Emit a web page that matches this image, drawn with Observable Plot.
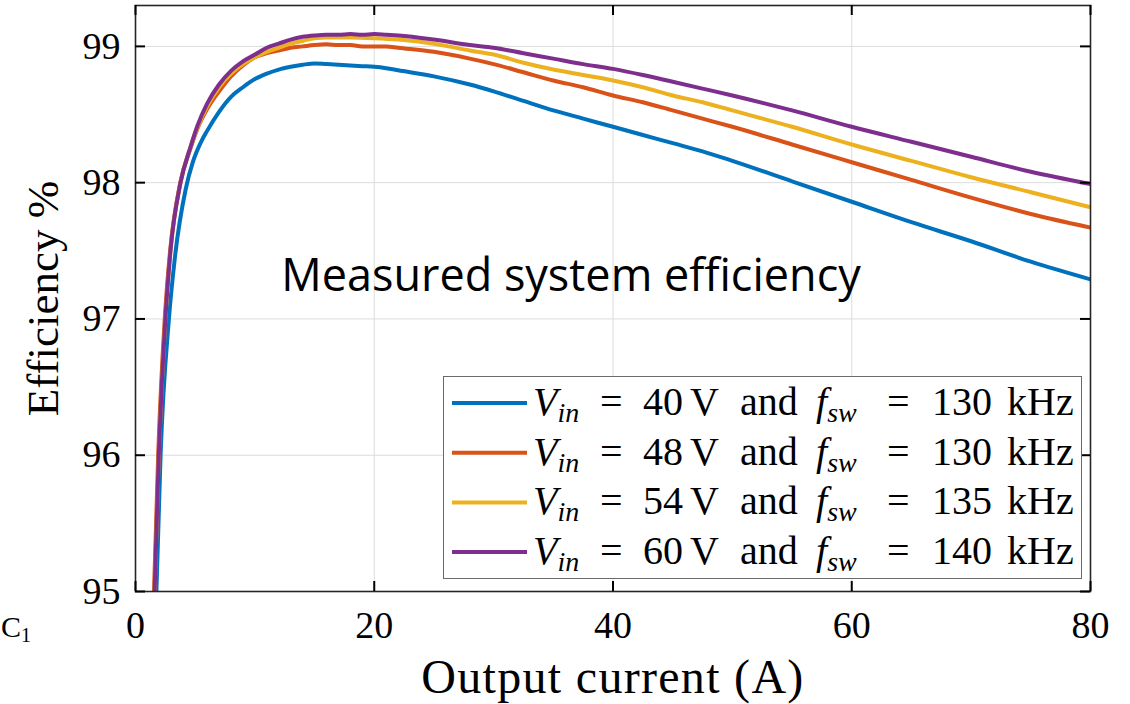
<!DOCTYPE html>
<html>
<head>
<meta charset="utf-8">
<script src="https://cdn.jsdelivr.net/npm/d3@7"></script>
<script src="https://cdn.jsdelivr.net/npm/@observablehq/plot@0.6"></script>
<style>
  body { margin: 0; background: #fff; }
  #chart { width: 1130px; height: 704px; overflow: hidden; }
</style>
</head>
<body>
<div id="chart"></div>
<script>
// ---- data ----
const seriesKeys = ["40V", "48V", "54V", "60V"];
const seriesColors = ["#0072BD", "#D95319", "#EDB120", "#7E2F8E"];
const vinValues = [40, 48, 54, 60];
const fswValues = [130, 130, 135, 140];

const current40 = [1.75, 2.1, 2.8, 3.3, 4.2, 4.8, 5.5, 6, 7, 8, 9, 10, 11, 12, 13, 14, 15, 16, 17, 18, 19, 20, 21, 22, 25, 28, 30, 32.5, 35, 37.5, 40, 42.5, 45, 47.5, 50, 55, 60, 65, 70, 75, 80];
const eff40 =     [95.0, 96.0, 97.0, 97.45, 97.95, 98.15, 98.3, 98.38, 98.52, 98.63, 98.7, 98.76, 98.8, 98.83, 98.85, 98.865, 98.875, 98.87, 98.865, 98.86, 98.855, 98.85, 98.84, 98.825, 98.78, 98.72, 98.67, 98.6, 98.53, 98.47, 98.41, 98.35, 98.29, 98.23, 98.16, 98.01, 97.86, 97.71, 97.57, 97.42, 97.29];

const current48 = [1.55, 1.9, 2.45, 2.9, 3.75, 4.6, 5.2, 6, 7, 8, 9, 10, 11, 12, 13, 14, 15, 16, 17, 18, 19, 20, 21, 22, 25, 28, 30, 32.5, 35, 37.5, 40, 42.5, 45, 47.5, 50, 55, 60, 65, 70, 75, 80];
const eff48 =     [95.0, 96.0, 97.0, 97.5, 98.0, 98.25, 98.4, 98.54, 98.67, 98.78, 98.86, 98.92, 98.95, 98.97, 98.99, 99.0, 99.01, 99.015, 99.01, 99.01, 99.0, 99.0, 99.0, 98.99, 98.96, 98.91, 98.87, 98.81, 98.75, 98.7, 98.64, 98.59, 98.53, 98.47, 98.41, 98.28, 98.15, 98.02, 97.89, 97.77, 97.67];

const current54 = [1.6, 1.95, 2.5, 2.93, 3.77, 4.6, 5.2, 6, 7, 8, 9, 10, 11, 12, 13, 14, 15, 16, 18, 20, 22, 25, 28, 30, 32.5, 35, 37.5, 40, 42.5, 45, 47.5, 50, 55, 60, 65, 70, 75, 80];
const eff54 =     [95.0, 96.0, 97.0, 97.5, 98.0, 98.26, 98.41, 98.56, 98.7, 98.8, 98.87, 98.92, 98.96, 98.99, 99.02, 99.04, 99.06, 99.065, 99.065, 99.06, 99.05, 99.02, 98.97, 98.94, 98.88, 98.83, 98.79, 98.75, 98.7, 98.64, 98.59, 98.53, 98.41, 98.28, 98.16, 98.04, 97.93, 97.82];

const current60 = [1.6, 1.95, 2.5, 2.93, 3.77, 4.6, 5.2, 6, 7, 8, 9, 10, 11, 12, 13, 14, 15, 16, 17, 18, 19, 20, 21, 22, 25, 28, 30, 32.5, 35, 37.5, 40, 42.5, 45, 47.5, 50, 55, 60, 65, 70, 75, 80];
const eff60 =     [95.0, 96.0, 97.0, 97.5, 98.0, 98.26, 98.42, 98.58, 98.72, 98.82, 98.89, 98.94, 98.99, 99.02, 99.05, 99.07, 99.08, 99.085, 99.085, 99.09, 99.085, 99.09, 99.085, 99.08, 99.05, 99.01, 98.99, 98.95, 98.91, 98.87, 98.835, 98.79, 98.74, 98.69, 98.64, 98.53, 98.41, 98.3, 98.19, 98.08, 97.99];

const xTicks = [0, 20, 40, 60, 80];
const yTicks = [95, 96, 97, 98, 99];
const xLabel = "Output current (A)";
const yLabel = "Efficiency %";
const annotation = [{x: 36.48, y: 97.31, text: "Measured system efficiency"}];

// ---- build table ----
const seriesX = [current40, current48, current54, current60];
const seriesY = [eff40, eff48, eff54, eff60];
const rows = seriesKeys.flatMap((k, s) => seriesX[s].map((x, i) => ({key: k, x, y: seriesY[s][i]})));

// ---- layout ----
const W = 1130, H = 704, mL = 135, mR = 40, mT = 5, mB = 113;
const plotW = W - mL - mR, plotH = H - mT - mB;
const serif = "'Liberation Serif', 'Times New Roman', serif";

const chart = Plot.plot({
  width: W, height: H,
  marginLeft: mL, marginRight: mR, marginTop: mT, marginBottom: mB,
  style: {background: "#fff", color: "#000", fontFamily: serif},
  x: {domain: [0, 80]},
  y: {domain: [95, 99.3]},
  color: {domain: seriesKeys, range: seriesColors},
  marks: [
    Plot.gridX(xTicks.slice(1, -1), {stroke: "#dcdcdc", strokeOpacity: 1, strokeWidth: 1}),
    Plot.gridY(yTicks.slice(1), {stroke: "#dcdcdc", strokeOpacity: 1, strokeWidth: 1}),
    Plot.line(rows, {x: "x", y: "y", z: "key", stroke: "key", strokeWidth: 4, strokeLinejoin: "round", curve: "monotone-x", clip: true}),
    Plot.text(annotation, {x: "x", y: "y", text: "text", fontFamily: "'Open Sans', sans-serif", fontSize: 45, fill: "#000"}),
    Plot.frame({stroke: "#262626", strokeWidth: 1.6}),
    // inward ticks on all four sides
    Plot.tickY(yTicks, {y: d => d, insetRight: plotW - 10, stroke: "#000", strokeWidth: 2}),
    Plot.tickY(yTicks, {y: d => d, insetLeft: plotW - 10, stroke: "#000", strokeWidth: 2}),
    Plot.tickX(xTicks, {x: d => d, insetTop: plotH - 10, stroke: "#000", strokeWidth: 2}),
    Plot.tickX(xTicks, {x: d => d, insetBottom: plotH - 10, stroke: "#000", strokeWidth: 2}),
    Plot.axisY(yTicks, {tickSize: 0, tickPadding: 15, fontSize: 38, label: null, fill: "#000", tickFormat: d => String(d)}),
    Plot.axisX(xTicks, {tickSize: 0, tickPadding: 20, fontSize: 38, label: null, fill: "#000", tickFormat: d => String(d)}),
    Plot.text([yLabel], {frameAnchor: "left", text: d => d, rotate: -90, dx: -92, textAnchor: "middle", lineAnchor: "middle", fontSize: 45, fill: "#000"}),
    Plot.text([xLabel], {frameAnchor: "bottom", text: d => d, dy: 86, textAnchor: "middle", lineAnchor: "middle", fontSize: 48, fill: "#000"})
  ]
});

document.getElementById("chart").appendChild(chart);

const svg = d3.select(chart);
// slightly wider spacing for the x label (Computer Modern is wider than Times)
svg.selectAll("text").filter(function() { return this.textContent === xLabel; }).attr("letter-spacing", "1.3px");

// ---- legend (drawn into the same SVG) ----
const lg = svg.append("g").attr("font-family", serif).attr("fill", "#000").attr("text-anchor", "start");
lg.append("rect").attr("x", 443.5).attr("y", 376.5).attr("width", 638).attr("height", 202)
  .attr("fill", "#fff").attr("stroke", "#6a6a6a").attr("stroke-width", 1);
seriesKeys.forEach((k, i) => {
  const cy = 403 + i * 49.7;
  lg.append("line").attr("x1", 452).attr("x2", 527).attr("y1", cy).attr("y2", cy)
    .attr("stroke", seriesColors[i]).attr("stroke-width", 4);
  const t = lg.append("text").attr("y", cy + 12).attr("font-size", 40);
  t.append("tspan").attr("x", 533).attr("font-style", "italic").text("V");
  t.append("tspan").attr("font-style", "italic").attr("font-size", 28).attr("dy", 7).text("in");
  t.append("tspan").attr("x", 600).attr("dy", -7).text("=");
  t.append("tspan").attr("x", 643).text(String(vinValues[i]));
  t.append("tspan").attr("x", 690).text("V");
  t.append("tspan").attr("x", 740).text("and");
  t.append("tspan").attr("x", 816).attr("font-style", "italic").text("f");
  t.append("tspan").attr("font-style", "italic").attr("font-size", 28).attr("dy", 7).text("sw");
  t.append("tspan").attr("x", 887).attr("dy", -7).text("=");
  t.append("tspan").attr("x", 932).text(String(fswValues[i]));
  t.append("tspan").attr("x", 1007).text("kHz");
});

// label fragment at the left edge
const frag = svg.append("text").attr("x", 1).attr("y", 637).attr("font-family", serif)
  .attr("font-size", 30).attr("fill", "#000").attr("text-anchor", "start");
frag.append("tspan").text("C");
frag.append("tspan").attr("font-size", 20).attr("dy", 5).text("1");
</script>
</body>
</html>
